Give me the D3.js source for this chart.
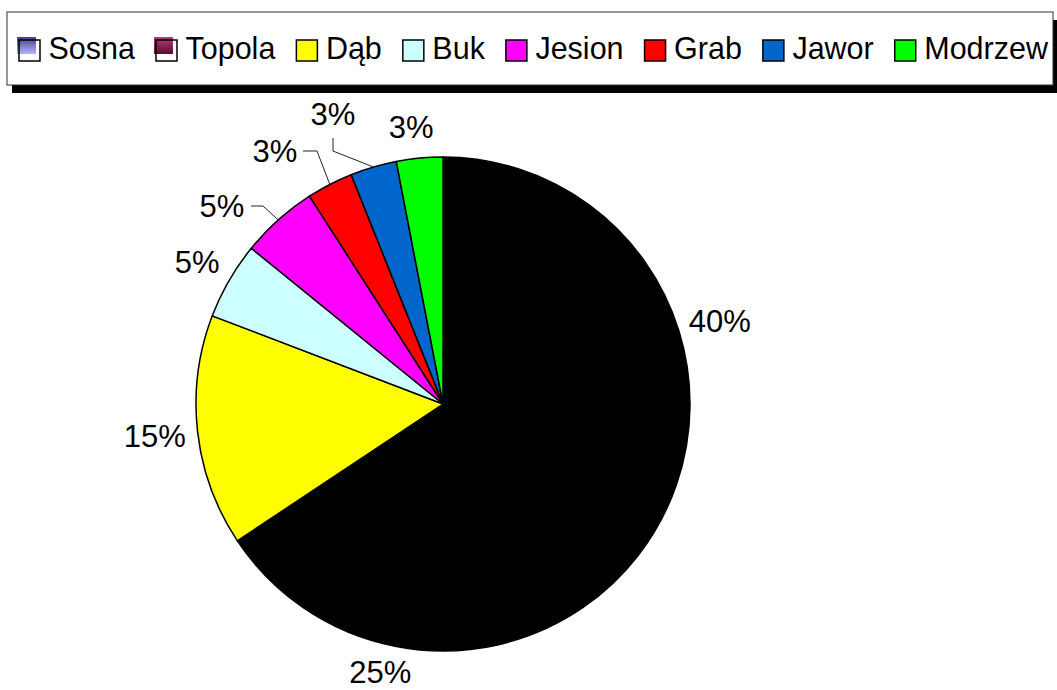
<!DOCTYPE html>
<html>
<head>
<meta charset="utf-8">
<script src="https://cdn.jsdelivr.net/npm/d3@7"></script>
<style>
  html, body { margin: 0; padding: 0; background: #fff; }
  svg { display: block; font-family: "Liberation Sans", Arial, sans-serif; }
</style>
</head>
<body>
<svg id="chart" width="1057" height="690"></svg>
<script>
// Tree species share (percent)
const species = ["Sosna", "Topola", "Dąb", "Buk", "Jesion", "Grab", "Jawor", "Modrzew"];
const shares  = [40, 25, 15, 5, 5, 3, 3, 3];
const labels  = ["40%", "25%", "15%", "5%", "5%", "3%", "3%", "3%"];
const sliceColors  = ["#000000", "#000000", "#ffff00", "#ccffff", "#ff00ff", "#ff0000", "#0066cc", "#00ff00"];

// Layout
const W = 1057, H = 690;
const cx = 443, cy = 404, R = 247;
const legendFont = 30.5, labelFont = 31;

// Distance of each percentage label from the centre, and a small turn (degrees)
const labelRadius = [289, 275, 290, 284, 0, 0, 0, 279];
const labelTurn   = [0.5, 2.3, 0, 0, 0, 0, 0, -1.1];

// Crowded labels are pulled aside and tied to their slice with a leader line
// (label centre, elbow and line end, as offsets from the pie centre).
const leaders = {
  "Jesion": { label: [-221, -198], elbow: [-180, -198], end: [-192, -198] },
  "Grab":   { label: [-168, -253], elbow: [-126, -253], end: [-140, -253] },
  "Jawor":  { label: [-110, -290], elbow: [-110, -253], end: [-110, -266] }
};

const svg = d3.select("#chart");
const data = species.map((s, i) => ({ name: s, value: shares[i], label: labels[i], color: sliceColors[i], idx: i }));

const pie = d3.pie().value(d => d.value).sort(null);
const arcs = pie(data);
const arc = d3.arc().innerRadius(0).outerRadius(R);

const g = svg.append("g").attr("transform", `translate(${cx},${cy})`);

g.selectAll("path.slice")
  .data(arcs)
  .join("path")
  .attr("class", "slice")
  .attr("d", arc)
  .attr("fill", d => d.data.color)
  .attr("stroke", "#000")
  .attr("stroke-width", 1.5)
  .attr("stroke-linejoin", "round");

// Leader lines
g.selectAll("polyline.leader")
  .data(arcs.filter(d => leaders[d.data.name]))
  .join("polyline")
  .attr("class", "leader")
  .attr("fill", "none")
  .attr("stroke", "#222")
  .attr("stroke-width", 1)
  .attr("points", d => {
    const a = (d.startAngle + d.endAngle) / 2;
    const p = [Math.sin(a) * R, -Math.cos(a) * R];
    const L = leaders[d.data.name];
    return [p, L.elbow, L.end].map(q => q.join(",")).join(" ");
  });

// Percentage labels
function labelPoint(d) {
  const L = leaders[d.data.name];
  if (L) return L.label;
  const i = d.data.idx;
  const a = (d.startAngle + d.endAngle) / 2 + labelTurn[i] * Math.PI / 180;
  return [Math.sin(a) * labelRadius[i], -Math.cos(a) * labelRadius[i]];
}

g.selectAll("text.pct")
  .data(arcs)
  .join("text")
  .attr("class", "pct")
  .attr("transform", d => `translate(${labelPoint(d).join(",")})`)
  .attr("text-anchor", "middle")
  .attr("dy", "0.36em")
  .attr("font-size", labelFont)
  .attr("fill", "#000")
  .text(d => d.data.label);

// Legend
const lg = svg.append("g");
const boxX = 7, boxY = 12, boxW = 1046, boxH = 73;
lg.append("rect")
  .attr("x", boxX + 5).attr("y", boxY + 8)
  .attr("width", boxW).attr("height", boxH)
  .attr("fill", "#000");
lg.append("rect")
  .attr("x", boxX).attr("y", boxY)
  .attr("width", boxW).attr("height", boxH)
  .attr("fill", "#fff")
  .attr("stroke", "#333").attr("stroke-width", 1);

const defs = svg.append("defs");
const grad = [
  ["gSosna", "#3f3f8f", "#b4b4f4"],
  ["gTopola", "#b0407a", "#5a0c38"]
];
grad.forEach(([id, c0, c1]) => {
  const lgd = defs.append("linearGradient").attr("id", id)
    .attr("x1", 0).attr("y1", 0).attr("x2", 0).attr("y2", 1);
  lgd.append("stop").attr("offset", "0%").attr("stop-color", c0);
  lgd.append("stop").attr("offset", "100%").attr("stop-color", c1);
});

const sw = 21, swY = 40, textBase = 59;
let x = 19;
data.forEach((d, i) => {
  const item = lg.append("g");
  if (i < 2) {
    item.append("rect")
      .attr("x", x - 2).attr("y", swY - 3)
      .attr("width", 19).attr("height", 17)
      .attr("fill", `url(#${i === 0 ? "gSosna" : "gTopola"})`);
    item.append("rect")
      .attr("x", x).attr("y", swY)
      .attr("width", sw).attr("height", sw)
      .attr("fill", "none")
      .attr("stroke", "#000").attr("stroke-width", 1.5);
  } else {
    item.append("rect")
      .attr("x", x).attr("y", swY)
      .attr("width", sw).attr("height", sw)
      .attr("fill", d.color)
      .attr("stroke", "#000").attr("stroke-width", 1.5);
  }
  const t = item.append("text")
    .attr("x", x + 29.5).attr("y", textBase)
    .attr("font-size", legendFont)
    .attr("fill", "#000")
    .text(d.name);
  x = x + 29.5 + t.node().getComputedTextLength() + 21;
});
</script>
</body>
</html>
